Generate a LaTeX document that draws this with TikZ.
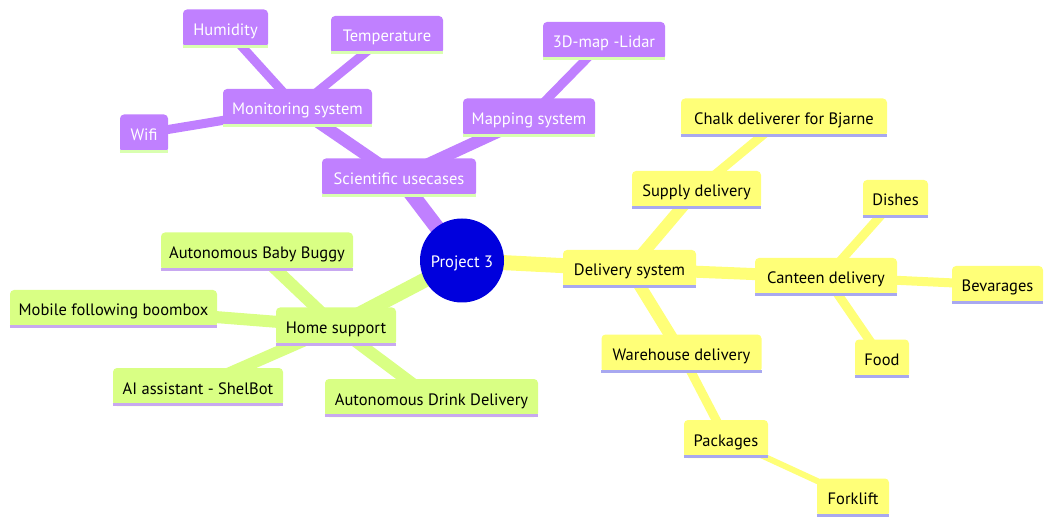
\documentclass[tikz,border=0pt]{standalone}
\usepackage{fontspec}
\setmainfont{PT Sans}
\usetikzlibrary{backgrounds}
\definecolor{pfill}{HTML}{C080FF}
\definecolor{pline}{HTML}{D9FFB0}
\definecolor{yfill}{HTML}{FFFF78}
\definecolor{yline}{HTML}{A8A8F0}
\definecolor{gfill}{HTML}{D9FF84}
\definecolor{gline}{HTML}{C8A8F0}
\definecolor{rootblue}{HTML}{0000DD}
\begin{document}
\begin{tikzpicture}[x=1pt,y=-1pt,
  font=\fontsize{16.5}{19}\selectfont,
  every node/.style={text height=16pt, text depth=2pt},
  box/.style={rectangle, rounded corners=4pt, inner sep=0pt, minimum height=38pt},
  pbox/.style={box, fill=pfill, text=white},
  ybox/.style={box, fill=yfill, text=black},
  gbox/.style={box, fill=gfill, text=black},
  ul/.style={line width=3pt},
  e0/.style={line width=15pt},
  e1/.style={line width=12pt},
  e2/.style={line width=9pt},
  e3/.style={line width=6pt}]
\useasboundingbox (0,0) rectangle (1054,526);
% root
\node[circle, fill=rootblue, text=white, minimum size=84pt, inner sep=0pt] (root) at (462,260.5) {Project 3};
% purple
\node[pbox, minimum width=154pt] (sci) at (399,177.5) {Scientific usecases};
\node[pbox, minimum width=149pt] (mon) at (297.5,108) {Monitoring system};
\node[pbox, minimum width=85pt] (hum) at (225.5,28.5) {Humidity};
\node[pbox, minimum width=112pt] (temp) at (387,35) {Temperature};
\node[pbox, minimum width=48pt] (wifi) at (144,133.5) {Wifi};
\node[pbox, minimum width=132pt] (map) at (529,117.5) {Mapping system};
\node[pbox, minimum width=122pt] (lidar) at (604,41) {3D-map -Lidar};
% yellow
\node[ybox, minimum width=133pt] (del) at (629.5,269) {Delivery system};
\node[ybox, minimum width=129pt] (sup) at (696.5,190) {Supply delivery};
\node[ybox, minimum width=206pt] (chalk) at (784,117.5) {Chalk deliverer for Bjarne};
\node[ybox, minimum width=142pt] (cant) at (826,277) {Canteen delivery};
\node[ybox, minimum width=65pt] (dish) at (895.5,199) {Dishes};
\node[ybox, minimum width=91pt] (bev) at (997.5,285) {Bevarages};
\node[ybox, minimum width=54pt] (food) at (882,358.5) {Food};
\node[ybox, minimum width=160pt] (ware) at (681.5,353.5) {Warehouse delivery};
\node[ybox, minimum width=84pt] (pack) at (726,439) {Packages};
\node[ybox, minimum width=72pt] (fork) at (853,497.5) {Forklift};
% green
\node[gbox, minimum width=120pt] (home) at (336,326.5) {Home support};
\node[gbox, minimum width=192pt] (buggy) at (257,251.5) {Autonomous Baby Buggy};
\node[gbox, minimum width=207pt] (boom) at (113.5,309) {Mobile following boombox};
\node[gbox, minimum width=170pt] (ai) at (198,387) {AI assistant - ShelBot};
\node[gbox, minimum width=213pt] (drink) at (431.5,398) {Autonomous Drink Delivery};
% underlines
\foreach \n in {sci,mon,hum,temp,wifi,map,lidar}
  \draw[ul, pline] ([yshift=1.5pt]\n.south west) -- ([yshift=1.5pt]\n.south east);
\foreach \n in {del,sup,chalk,cant,dish,bev,food,ware,pack,fork}
  \draw[ul, yline] ([yshift=1.5pt]\n.south west) -- ([yshift=1.5pt]\n.south east);
\foreach \n in {home,buggy,boom,ai,drink}
  \draw[ul, gline] ([yshift=1.5pt]\n.south west) -- ([yshift=1.5pt]\n.south east);
% edges
\begin{scope}[on background layer]
\draw[e0, pfill] (root.center) -- (sci.center);
\draw[e1, pfill] (sci.center) -- (mon.center);
\draw[e1, pfill] (sci.center) -- (map.center);
\draw[e2, pfill] (mon.center) -- (hum.center);
\draw[e2, pfill] (mon.center) -- (temp.center);
\draw[e2, pfill] (mon.center) -- (wifi.center);
\draw[e2, pfill] (map.center) -- (lidar.center);
\draw[e0, yfill] (root.center) -- (del.center);
\draw[e1, yfill] (del.center) -- (sup.center);
\draw[e1, yfill] (del.center) -- (cant.center);
\draw[e1, yfill] (del.center) -- (ware.center);
\draw[e2, yfill] (sup.center) -- (chalk.center);
\draw[e2, yfill] (cant.center) -- (dish.center);
\draw[e2, yfill] (cant.center) -- (bev.center);
\draw[e2, yfill] (cant.center) -- (food.center);
\draw[e2, yfill] (ware.center) -- (pack.center);
\draw[e3, yfill] (pack.center) -- (fork.center);
\draw[e0, gfill] (root.center) -- (home.center);
\draw[e1, gfill] (home.center) -- (buggy.center);
\draw[e1, gfill] (home.center) -- (boom.center);
\draw[e1, gfill] (home.center) -- (ai.center);
\draw[e1, gfill] (home.center) -- (drink.center);
\end{scope}
\end{tikzpicture}
\end{document}
